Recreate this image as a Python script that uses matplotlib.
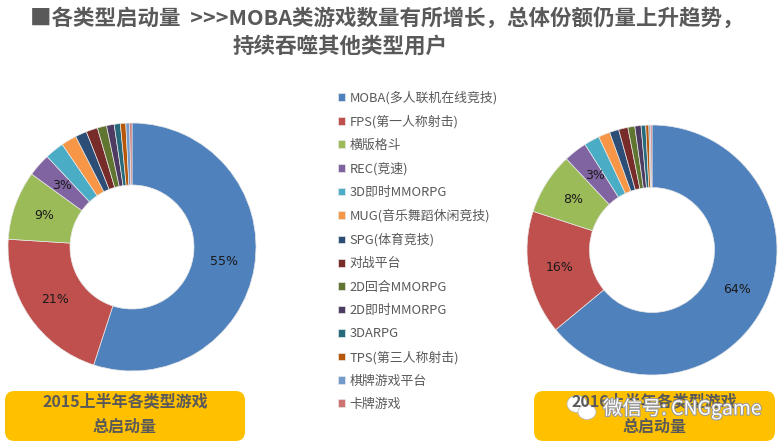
import matplotlib
matplotlib.use('Agg')
import matplotlib.pyplot as plt
from matplotlib.patches import FancyBboxPatch, Ellipse
import matplotlib.patheffects as pe

plt.rcParams['font.family'] = ['Noto Sans CJK SC', 'DejaVu Sans']

# 游戏类型
categories = ['MOBA(多人联机在线竞技)', 'FPS(第一人称射击)', '横版格斗', 'REC(竞速)',
              '3D即时MMORPG', 'MUG(音乐舞蹈休闲竞技)', 'SPG(体育竞技)', '对战平台',
              '2D回合MMORPG', '2D即时MMORPG', '3DARPG', 'TPS(第三人称射击)',
              '棋牌游戏平台', '卡牌游戏']
# 启动量占比 (%)
share_2015 = [55, 21, 9, 3, 2.5, 2.0, 1.5, 1.5, 1.2, 1.0, 0.8, 0.7, 0.5, 0.3]
share_2016 = [64, 16, 8, 3, 2.0, 1.5, 1.2, 1.2, 0.9, 0.8, 0.6, 0.4, 0.2, 0.2]
colors = ['#4F81BD', '#C0504D', '#9BBB59', '#8064A2', '#4BACC6', '#F79646', '#2C4D75',
          '#772C2A', '#5F7530', '#4D3B62', '#276A7C', '#B65708', '#729ACA', '#CD7371']
box_labels = ['2015上半年各类型游戏\n总启动量', '2016上半年各类型游戏\n总启动量']

W, H = 784, 447
fig = plt.figure(figsize=(W / 100, H / 100), dpi=100)
fig.patch.set_facecolor('white')

def px_axes(cx, cy, r):
    return fig.add_axes([(cx - r) / W, (H - cy - r) / H, 2 * r / W, 2 * r / H])

def autopct(p):
    return f'{p:.0f}%' if p >= 2.9 else ''

wedges = None
for (cx, cy, r), data in [((132, 247, 124), share_2015), ((652, 250, 125), share_2016)]:
    ax = px_axes(cx, cy, r)
    w, t, at = ax.pie(data, colors=colors, startangle=90, counterclock=False,
                      radius=1, autopct=autopct, pctdistance=0.75,
                      wedgeprops=dict(width=0.5, edgecolor='#e8e8e8', linewidth=0.5),
                      textprops=dict(fontsize=9, color='#1a1a1a', family=['DejaVu Sans']))
    ax.set_xlim(-1, 1)
    ax.set_ylim(-1, 1)
    ax.set_aspect('equal')
    if wedges is None:
        wedges = w

# 图例
leg = fig.legend(wedges, categories, loc='upper left', bbox_to_anchor=(333 / W, 1 - 86 / H),
                 frameon=False, fontsize=9.3, labelcolor='#595959',
                 handlelength=0.55, handleheight=0.55, handletextpad=0.35,
                 labelspacing=0.80, borderaxespad=0)

# 标题
fig.text(30 / W, 1 - 18 / H, '■各类型启动量  >>>MOBA类游戏数量有所增长，总体份额仍量上升趋势，',
         fontsize=15.5, fontweight='bold', color='#595959', va='center', ha='left')
fig.text(233 / W, 1 - 46 / H, '持续吞噬其他类型用户',
         fontsize=15.5, fontweight='bold', color='#595959', va='center', ha='left')

# 底部黄色框
for (x0, x1), label in zip([(5, 245), (534, 775)], box_labels):
    box = FancyBboxPatch((x0 / W, 1 - 441 / H), (x1 - x0) / W, 50 / H,
                         boxstyle='round,pad=0,rounding_size=0.012',
                         transform=fig.transFigure, facecolor='#FFC000',
                         edgecolor='none', mutation_aspect=W / H)
    fig.patches.append(box)
    fig.text((x0 + x1) / 2 / W, 1 - 414 / H, label, fontsize=11.5, fontweight='bold',
             color='#595959', ha='center', va='center', linespacing=1.75)

# 水印
for ex, ey, ew, eh in [(577, 404, 20, 17), (587, 412, 18, 15)]:
    fig.patches.append(Ellipse((ex / W, 1 - ey / H), ew / W, eh / H, transform=fig.transFigure,
                               facecolor='white', edgecolor='#bbbbbb', linewidth=0.6))
fig.text(603 / W, 1 - 409 / H, '微信号: CNGgame', fontsize=14, color='white',
         ha='left', va='center',
         path_effects=[pe.withStroke(linewidth=1.5, foreground='#9a9a9a')])

fig.savefig('out.png', dpi=100)
